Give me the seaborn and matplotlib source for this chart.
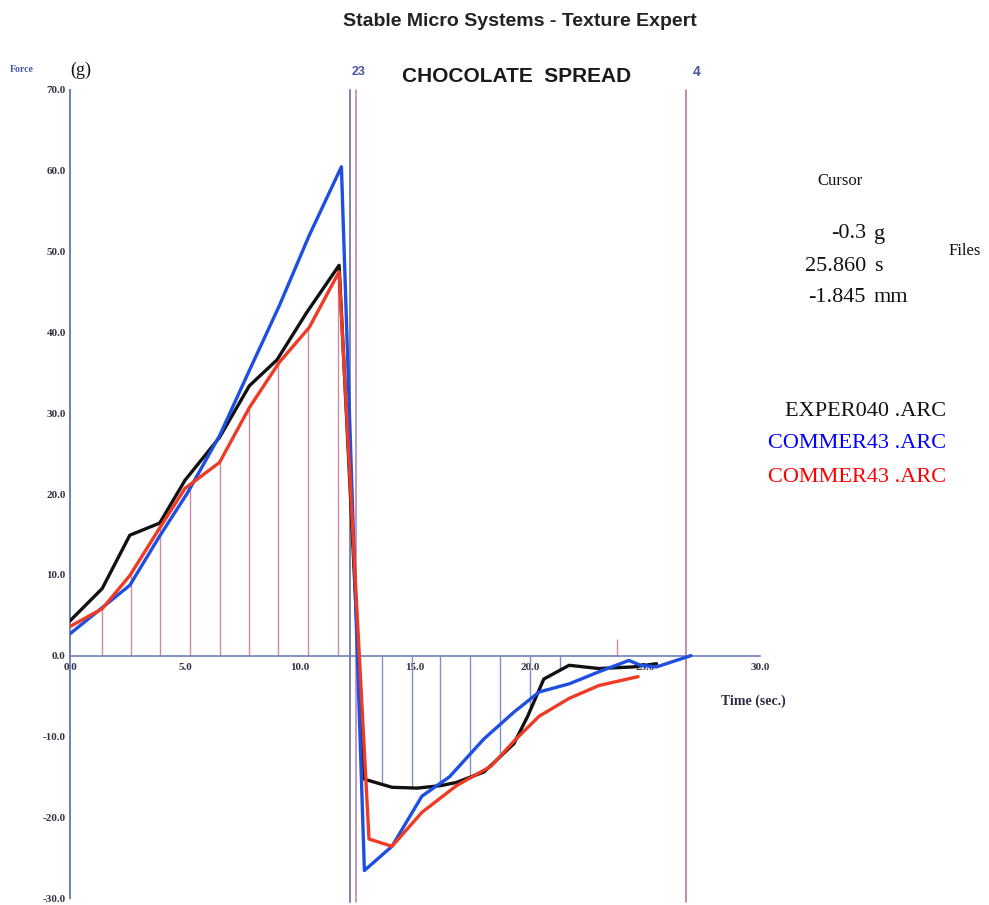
import matplotlib
matplotlib.use("Agg")
import matplotlib.pyplot as plt
import numpy as np
import pandas as pd
import seaborn as sns

# ---- data ----
t_black = [0.0, 1.4, 2.6, 3.9, 5.0, 6.5, 7.8, 9.0, 10.3, 11.7, 12.8, 14.0, 15.1, 16.1, 16.8, 18.0, 19.3, 19.9, 20.6, 21.7, 23.0, 24.5, 25.5]
f_black = [4.3, 8.3, 14.9, 16.4, 21.7, 27.0, 33.4, 36.6, 42.5, 48.3, -15.3, -16.3, -16.4, -16.1, -15.7, -14.4, -10.9, -7.5, -2.9, -1.2, -1.6, -1.4, -1.0]

t_blue = [0.0, 2.6, 3.9, 5.1, 6.5, 7.8, 9.1, 10.4, 11.8, 12.8, 14.0, 15.3, 16.5, 18.0, 19.3, 20.4, 21.7, 23.0, 24.3, 24.8, 25.5, 27.0]
f_blue = [2.7, 8.7, 14.8, 20.1, 27.2, 35.3, 43.3, 52.0, 60.5, -26.6, -23.6, -17.4, -15.0, -10.3, -7.0, -4.5, -3.5, -2.0, -0.6, -1.2, -1.4, 0.0]

t_red = [0.0, 1.4, 2.6, 3.9, 5.0, 6.5, 7.8, 9.1, 10.4, 11.7, 13.0, 14.0, 15.3, 16.8, 18.3, 19.4, 20.4, 21.7, 23.0, 24.7]
f_red = [3.6, 5.8, 9.9, 15.8, 20.7, 23.9, 30.7, 36.3, 40.6, 47.5, -22.7, -23.6, -19.4, -16.1, -13.7, -10.3, -7.5, -5.3, -3.7, -2.6]

series_names = ["EXPER040", "COMMER43 blue", "COMMER43 red"]
file_labels = ["EXPER040 .ARC", "COMMER43 .ARC", "COMMER43 .ARC"]
colors = ["#111111", "#1f4fe0", "#ee3b26"]

x_ticks = [0.0, 5.0, 10.0, 15.0, 20.0, 25.0, 30.0]
y_ticks = [70.0, 60.0, 50.0, 40.0, 30.0, 20.0, 10.0, 0.0, -10.0, -20.0, -30.0]

hatch_pos_t = [1.39, 2.65, 3.91, 5.22, 6.52, 7.78, 9.04, 10.35, 11.65]
hatch_neg_t = [13.57, 14.87, 16.09, 17.39, 18.70, 20.0, 21.30]
cursor_t = [12.17, 12.43, 26.8]

df = pd.concat([
    pd.DataFrame({"t": t_black, "f": f_black, "s": series_names[0]}),
    pd.DataFrame({"t": t_blue, "f": f_blue, "s": series_names[1]}),
    pd.DataFrame({"t": t_red, "f": f_red, "s": series_names[2]}),
], ignore_index=True)

sns.set_style("white")
plt.rcParams["font.family"] = ["Liberation Serif", "DejaVu Serif"]

W, H = 989, 905
fig = plt.figure(figsize=(W / 100, H / 100), dpi=100)

def fx(px):
    return px / W

def fy(py):
    return 1 - py / H

ax = fig.add_axes([fx(70), fy(898), fx(760) - fx(70), fy(90) - fy(898)])
ax.set_xlim(0, 30)
ax.set_ylim(-30, 70)

# hatching
pos_top = np.interp(hatch_pos_t, t_red, f_red)
ax.vlines(hatch_pos_t, 0, pos_top, colors="#cf8aa0", lw=1.0, zorder=1)
neg_bot = np.interp(hatch_neg_t, t_black, f_black)
ax.vlines(hatch_neg_t, 0, neg_bot, colors="#7f8fcc", lw=1.0, zorder=1)
ax.vlines([23.8], 0, 2.0, colors="#cf8aa0", lw=1.0, zorder=1)

# cursor lines
ax.axvline(cursor_t[0], ymin=-0.005, ymax=1.0, color="#7f84a8", lw=1.4, clip_on=False, zorder=2)
ax.axvline(cursor_t[1], ymin=-0.005, ymax=1.0, color="#b889b8", lw=1.2, clip_on=False, zorder=2)
ax.axvline(cursor_t[2], ymin=-0.005, ymax=1.0, color="#b97c9a", lw=1.2, clip_on=False, zorder=2)

sns.lineplot(data=df, x="t", y="f", hue="s", palette=colors, sort=False,
             estimator=None, lw=2.4, legend=False, ax=ax, zorder=3)

# axes styling
for side in ["top", "right"]:
    ax.spines[side].set_visible(False)
ax.spines["bottom"].set_position(("data", 0))
ax.spines["bottom"].set_color("#7080b8")
ax.spines["left"].set_color("#7080b8")
ax.spines["bottom"].set_linewidth(1.2)
ax.spines["left"].set_linewidth(1.4)
ax.set_xticks(x_ticks)
ax.set_xticklabels([f"{v:.1f}" for v in x_ticks])
ax.set_yticks(y_ticks)
ax.set_yticklabels([f"{v:.1f}" for v in y_ticks])
ax.tick_params(axis="x", direction="in", length=4, color="#7080b8", pad=5, labelsize=8)
ax.tick_params(axis="y", direction="out", length=2, color="#7080b8", pad=1, labelsize=8)
for lab in ax.get_xticklabels() + ax.get_yticklabels():
    lab.set_fontweight("bold")
    lab.set_color("#333344")
ax.set_xlabel("")
ax.set_ylabel("")
ax.patch.set_alpha(0)

# texts
fig.text(fx(520), fy(21), "Stable Micro Systems - Texture Expert", ha="center", va="center",
         fontsize=14, fontweight="bold", family=["Liberation Sans", "DejaVu Sans"], color="#222222")
fig.text(fx(517), fy(77), "CHOCOLATE  SPREAD", ha="center", va="center",
         fontsize=15, fontweight="bold", family=["Liberation Sans", "DejaVu Sans"], color="#1a1a1a")
fig.text(fx(10), fy(70), "Force", ha="left", va="center", fontsize=7, fontweight="bold", color="#4a55a0")
fig.text(fx(70), fy(70), "(g)", ha="left", va="center", fontsize=13, color="#111111")
fig.text(fx(753), fy(701), "Time (sec.)", ha="center", va="center", fontsize=10, fontweight="bold", color="#2a2a44")
fig.text(fx(359), fy(72), "23", ha="center", va="center", fontsize=9, fontweight="bold", color="#4a55a0",
         family=["Liberation Sans", "DejaVu Sans"])
fig.text(fx(697), fy(72), "4", ha="center", va="center", fontsize=10, fontweight="bold", color="#4a55a0",
         family=["Liberation Sans", "DejaVu Sans"])

fig.text(fx(840), fy(181), "Cursor", ha="center", va="center", fontsize=12, color="#111111")
vals = ["-0.3", "25.860", "-1.845"]
units = ["g", "s", "mm"]
for i, (v, u) in enumerate(zip(vals, units)):
    yy = 234 + i * 32
    fig.text(fx(866), fy(yy), v, ha="right", va="center", fontsize=16, color="#111111")
    fig.text(fx(874), fy(yy), u, ha="left", va="center", fontsize=16, color="#111111")
fig.text(fx(981), fy(251), "Files", ha="right", va="center", fontsize=12, color="#111111")
file_colors = ["#111111", "#0000ff", "#ff0000"]
for i, (lab, c) in enumerate(zip(file_labels, file_colors)):
    fig.text(fx(946), fy(411 + i * 33), lab, ha="right", va="center", fontsize=16, color=c)

fig.savefig("out.png", dpi=100)
